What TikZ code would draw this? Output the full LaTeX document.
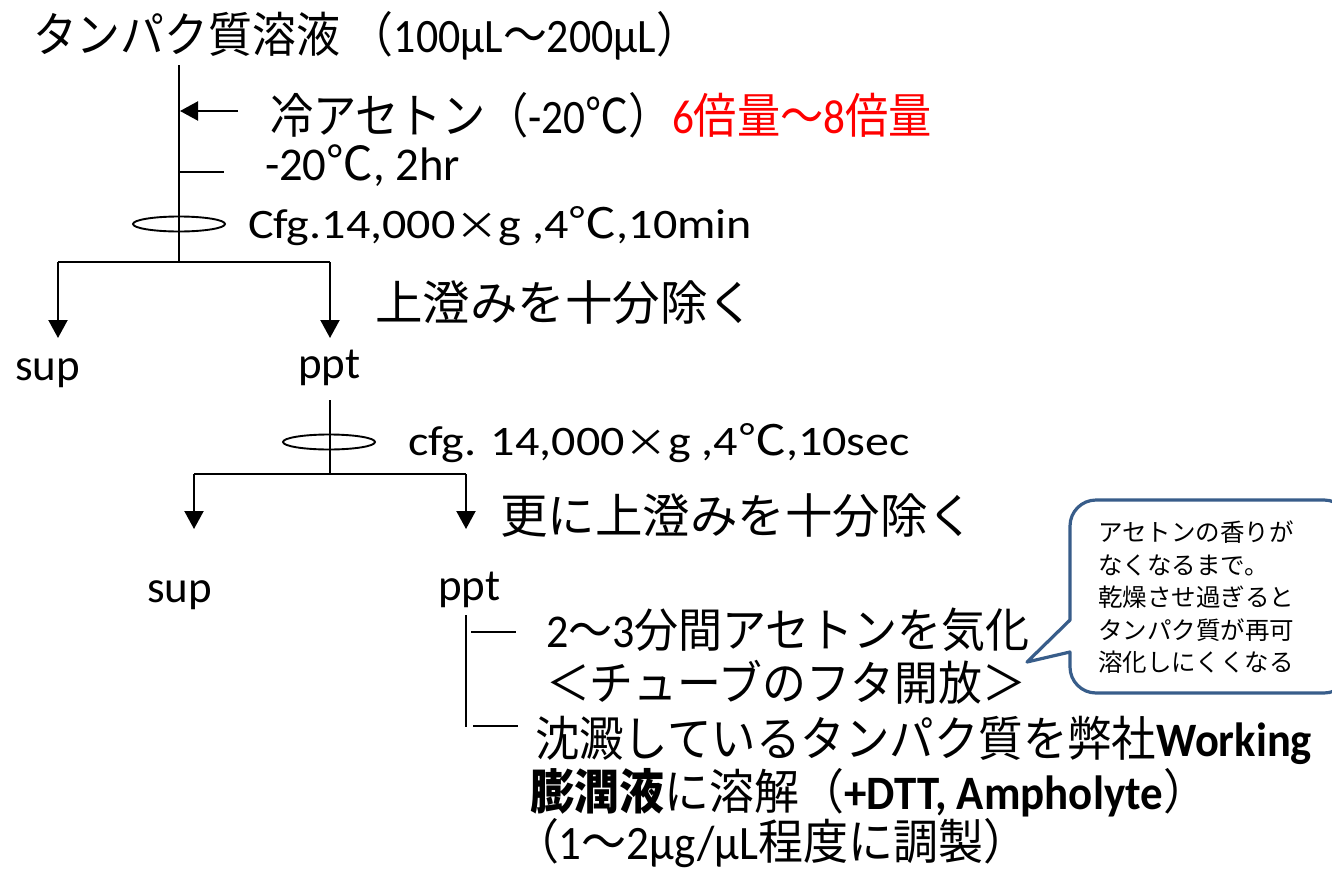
\documentclass[tikz,border=0pt]{standalone}
\usepackage{fontspec}
\setmainfont{Carlito}
\newfontfamily\jpf{Noto Sans CJK JP}
\newcommand\jp[1]{{\jpf #1}}
\newcommand\fitw[2]{\resizebox{#1}{\height}{#2}}
\newcommand\fsz[1]{\fontsize{#1}{#1}\selectfont}
\newcommand\timesx{\raisebox{-1pt}{\scalebox{0.9}{{\jpf ×}}}}
\usetikzlibrary{arrows.meta,shapes.geometric}
\definecolor{callblue}{HTML}{385D8A}
\begin{document}
\begin{tikzpicture}[x=1pt,y=-1pt,
  txt/.style={anchor=base west,inner sep=0pt,outer sep=0pt},
  ln/.style={line width=2.1pt},
  arr/.style={line width=2.1pt,-{Triangle[width=19pt,length=18pt]}},
  spin/.style={draw,ellipse,line width=1.9pt,minimum width=92pt,minimum height=15pt,inner sep=0pt},
  callout/.style={draw=callblue,line width=3.2pt,fill=white,line join=round}]
\useasboundingbox (0,0) rectangle (1332,870);
\clip (0,0) rectangle (1332,870);
% texts
\node[txt,font=\fsz{48}] (t1) at (33,52) {\fitw{667pt}{\jp{タンパク質溶液 （}100μL\jp{～}200μL\jp{）}}};
\node[txt,font=\fsz{48}] (t2) at (270,133) {\fitw{662pt}{\jp{冷アセトン（}-20\jp{℃）}\textcolor{red}{6\jp{倍量～}8\jp{倍量}}}};
\node[txt,font=\fsz{47}] (t3) at (265,180) {\fitw{195pt}{-20\jp{℃}, 2hr}};
\node[txt,font=\fsz{42}] (t4) at (248,238) {\fitw{504pt}{Cfg.14,000\timesx g ,4\jp{℃},10min}};
\node[txt,font=\fsz{47.5}] (t5) at (375,320) {\fitw{380pt}{\jp{上澄みを十分除く}}};
\node[txt,font=\fsz{45}] (sup1) at (15,380) {sup};
\node[txt,font=\fsz{45}] (ppt1) at (298,378) {ppt};
\node[txt,font=\fsz{42}] (t7) at (408,455) {\fitw{502pt}{cfg. 14,000\timesx g ,4\jp{℃},10sec}};
\node[txt,font=\fsz{47.5}] (t8) at (500,533) {\fitw{475pt}{\jp{更に上澄みを十分除く}}};
\node[txt,font=\fsz{45}] (sup2) at (147,602) {sup};
\node[txt,font=\fsz{45}] (ppt2) at (438,600) {ppt};
\node[txt,font=\fsz{47}] (t10) at (546,647) {\fitw{484pt}{2\jp{～}3\jp{分間アセトンを気化}}};
\node[txt,font=\fsz{47}] (t11) at (546,700) {\fitw{480pt}{\jp{＜チューブのフタ開放＞}}};
\node[txt,font=\fsz{48}] (t12) at (535,756) {\fitw{777pt}{\jp{沈澱しているタンパク質を弊社}\textbf{Working}}};
\node[txt,font=\fsz{48}] (t13) at (530,809) {\fitw{678pt}{\jp{\bfseries 膨潤液}\jp{に溶解}\jp{（}\textbf{+DTT, Ampholyte}\jp{）}}};
\node[txt,font=\fsz{48}] (t14) at (514,859) {\fitw{514pt}{\jp{（}1\jp{～}2μg/μL\jp{程度に調製）}}};
% first stage
\coordinate (a0) at (179,65);
\coordinate (a1) at (179,262);
\coordinate (acet) at (238,111);
\coordinate (acetend) at (180,111);
\coordinate (tk1) at (179,172);
\coordinate (tk1e) at (224,172);
\coordinate (bl) at (58,262);
\coordinate (br) at (330,262);
\coordinate (blt) at (58,338);
\coordinate (brt) at (330,338);
\draw[ln] (a0) -- (a1);
\draw[arr] (acet) -- (acetend);
\draw[ln] (tk1) -- (tk1e);
\node[spin] (sp1) at (179,224) {};
\draw[ln] (bl) -- (br);
\draw[arr] (bl) -- (blt);
\draw[arr] (br) -- (brt);
% second stage
\coordinate (b0) at (330,400);
\coordinate (b1) at (330,474);
\coordinate (cl) at (194,474);
\coordinate (cr) at (466,474);
\coordinate (clt) at (194,529);
\coordinate (crt) at (466,529);
\draw[ln] (b0) -- (b1);
\node[spin] (sp2) at (329,442) {};
\draw[ln] (cl) -- (cr);
\draw[arr] (cl) -- (clt);
\draw[arr] (cr) -- (crt);
% third stage
\coordinate (d0) at (466,615);
\coordinate (d1) at (466,727);
\draw[ln] (d0) -- (d1);
\coordinate (e1) at (471,632);
\coordinate (e1e) at (516,632);
\coordinate (e2) at (473,726);
\coordinate (e2e) at (518,726);
\draw[ln] (e1) -- (e1e);
\draw[ln] (e2) -- (e2e);
% callout
\draw[callout] (1070,620) [rounded corners=26pt] -- (1070,500) -- (1350,500) -- (1350,693) -- (1070,693) [sharp corners] -- (1070,652) -- (1027,662) -- cycle;
\node[anchor=north west,inner sep=0pt,align=left,font=\jpf\fontsize{24.5}{32.5}\selectfont] (note) at (1098,521)
  {アセトンの香りが\\なくなるまで。\\乾燥させ過ぎると\\タンパク質が再可\\溶化しにくくなる};
\end{tikzpicture}
\end{document}
